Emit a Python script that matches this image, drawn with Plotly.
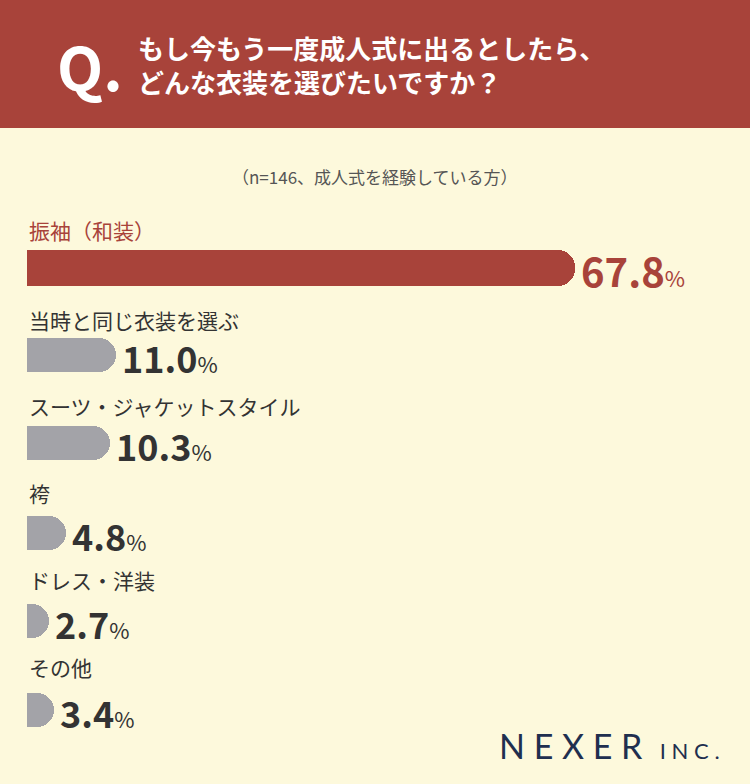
import plotly.graph_objects as go

categories = ["振袖（和装）", "当時と同じ衣装を選ぶ", "スーツ・ジャケットスタイル", "袴", "ドレス・洋装", "その他"]
values = [67.8, 11.0, 10.3, 4.8, 2.7, 3.4]
value_labels = ["67.8", "11.0", "10.3", "4.8", "2.7", "3.4"]

RED = "#A8433A"
GRAY = "#A3A3A8"
BG = "#FDF9DC"
FONT = "Noto Sans CJK JP"

W, H = 750, 784
k = 548 / 67.8
left = 27
centers = [268, 355, 443, 533, 621, 710]
label_y = [230, 320, 406, 493, 580, 667]

colors = [RED] + [GRAY] * (len(values) - 1)
fig = go.Figure(go.Bar(
    x=values, y=centers, orientation="h", width=[36] + [34] * 5,
    marker=dict(color=colors, cornerradius=17, line=dict(width=0)),
    hoverinfo="skip"))

ann = []
for i, (c, v, lab) in enumerate(zip(categories, values, value_labels)):
    col = RED if i == 0 else "#333333"
    ann.append(dict(x=0, y=label_y[i], xref="x", yref="y", text=c, showarrow=False,
                    xanchor="left", yanchor="middle",
                    font=dict(family=FONT, size=21, color=col)))
    ann.append(dict(x=v, y=centers[i] + 2, xref="x", yref="y", showarrow=False,
                    xanchor="left", yanchor="middle", xshift=4,
                    text=f"<b>{lab}</b><span style='font-size:22px'>%</span>",
                    font=dict(family=FONT, size=40 if i == 0 else 36, color=col)))

ann += [
    dict(x=90, y=64, xref="px", text="<b>Q.</b>", xanchor="center",
         font=dict(family=FONT, size=60, color="white")),
    dict(x=136, y=64, xref="px",
         text="<b>もし今もう一度成人式に出るとしたら、<br>どんな衣装を選びたいですか？</b>",
         align="left", xanchor="left", font=dict(family=FONT, size=26, color="white")),
    dict(x=375, y=176, xref="px", text="（n=146、成人式を経験している方）", xanchor="center",
         font=dict(family=FONT, size=17, color="#555555")),
    dict(x=722, y=745, xref="px",
         text="N E X E R  <span style='font-size:22px'>I N C .</span>",
         xanchor="right", font=dict(family="Lato", size=34, color="#1F2F4F")),
]
for a in ann:
    if a.get("xref") == "px":
        a["xref"] = "x"
        a["yref"] = "y"
        a["x"] = (a["x"] - left) / k
        a["showarrow"] = False
        a["yanchor"] = "middle"

fig.update_layout(
    width=W, height=H, margin=dict(l=0, r=0, t=0, b=0),
    paper_bgcolor=BG, plot_bgcolor=BG, showlegend=False,
    xaxis=dict(range=[-left / k, (W - left) / k], visible=False, fixedrange=True),
    yaxis=dict(range=[H, 0], visible=False, fixedrange=True),
    shapes=[dict(type="rect", xref="paper", yref="paper", x0=0, x1=1, y0=1 - 128 / H, y1=1,
                 fillcolor=RED, line=dict(width=0), layer="below")],
    annotations=ann, bargap=0,
)
fig.write_html("out.html", config={"displayModeBar": False})
with open("out.html", encoding="utf-8") as f:
    html = f.read()
html = html.replace("<head>", "<head><style>html,body{margin:0;padding:0;overflow:hidden;}</style>", 1)
with open("out.html", "w", encoding="utf-8") as f:
    f.write(html)
